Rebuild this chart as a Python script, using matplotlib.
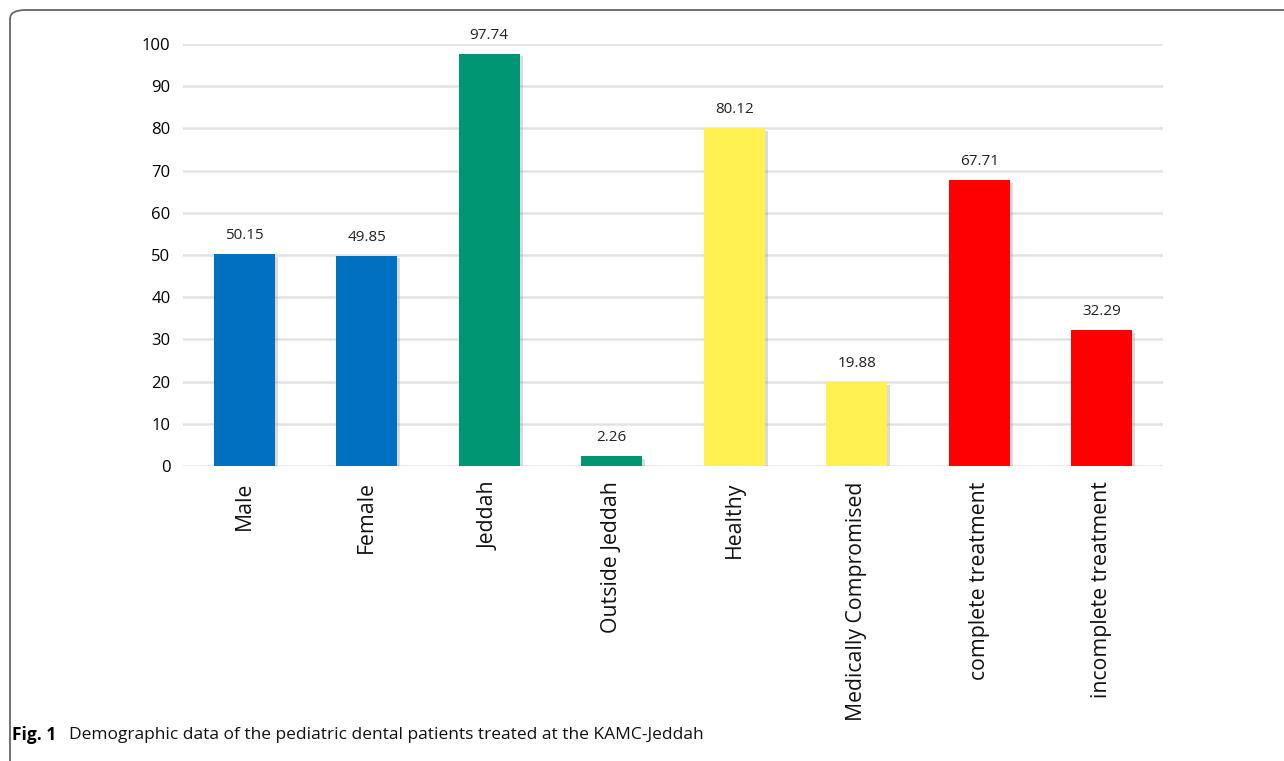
import matplotlib
matplotlib.use("Agg")
import matplotlib.pyplot as plt
from matplotlib.patches import FancyBboxPatch
import matplotlib.patheffects as pe

categories = ["Male", "Female", "Jeddah", "Outside Jeddah", "Healthy",
              "Medically Compromised", "complete treatment", "incomplete treatment"]
values = [50.15, 49.85, 97.74, 2.26, 80.12, 19.88, 67.71, 32.29]
colors = ["#0070C0", "#0070C0", "#009673", "#009673", "#FFF250", "#FFF250", "#FF0000", "#FF0000"]
yticks = [0, 10, 20, 30, 40, 50, 60, 70, 80, 90, 100]

W, H = 1284, 761
fig = plt.figure(figsize=(W / 100, H / 100), dpi=100)
plt.rcParams['font.family'] = ['Open Sans', 'DejaVu Sans']

# frame
frame = FancyBboxPatch((10 / W, -20 / H), (W + 40) / W, (H + 10) / H,
                       boxstyle="round,pad=0,rounding_size=0.012",
                       transform=fig.transFigure, fill=False,
                       edgecolor="#666666", linewidth=1.3, zorder=0)
fig.patches.append(frame)

ax = fig.add_axes([183 / W, 1 - 466 / H, 980 / W, (466 - 44) / H])
x = list(range(len(categories)))
bars = ax.bar(x, values, width=0.5, color=colors, zorder=3)
for b in bars:
    b.set_path_effects([pe.SimplePatchShadow(offset=(2, -2), shadow_rgbFace="#999999", alpha=0.35), pe.Normal()])

for xi, v in zip(x, values):
    ax.text(xi, v + 2.6, f"{v:.2f}", ha="center", va="bottom", fontsize=11, color="#222222")

ax.set_xlim(-0.5, len(categories) - 0.5)
ax.set_ylim(0, 100)
ax.set_yticks(yticks)
ax.set_yticklabels([str(t) for t in yticks], fontsize=12)
ax.set_xticks(x)
ax.set_xticklabels(categories, rotation=90, fontsize=15.3, color="#111111")
ax.tick_params(axis="y", length=0, pad=9)
ax.tick_params(axis="x", length=0, pad=11)
ax.yaxis.grid(True, color="#e2e2e2", linewidth=1.8, zorder=0)
ax.set_axisbelow(True)
for s in ax.spines.values():
    s.set_visible(False)

fig.text(12 / W, 1 - 735 / H, "Fig. 1", fontsize=12.5, va="center", ha="left", fontweight="bold")
fig.text(69 / W, 1 - 735 / H, "Demographic data of the pediatric dental patients treated at the KAMC-Jeddah",
         fontsize=12.5, va="center", ha="left", color="#111111")

fig.savefig("out.png", dpi=100)
